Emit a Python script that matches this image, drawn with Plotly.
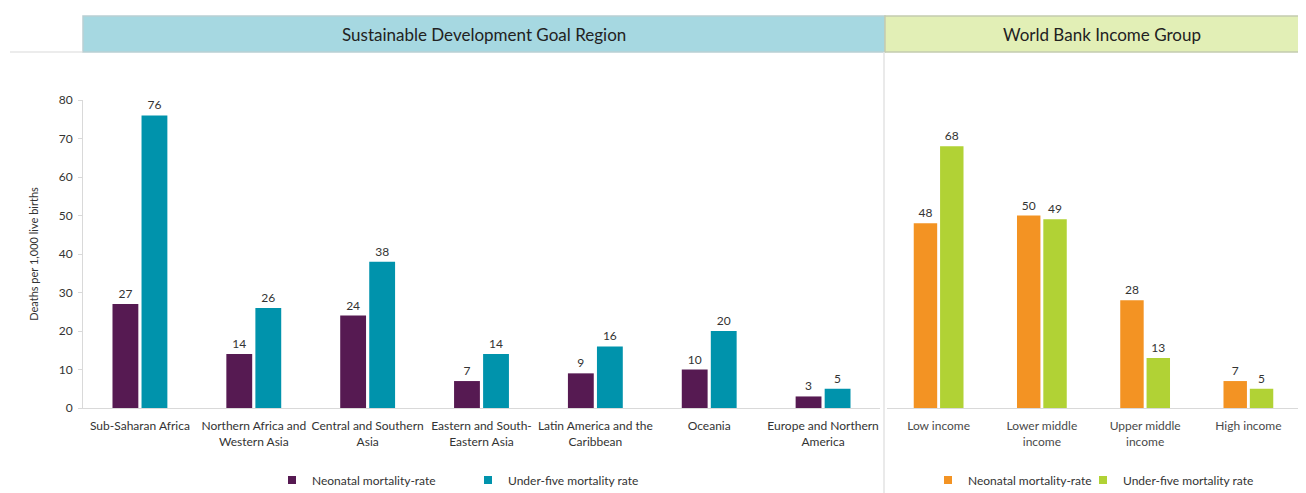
import plotly.graph_objects as go

# the page puts the figure 8px in from the top-left corner
OFF = 8
W, H = 1306 - OFF, 493 - OFF

sdg_regions = [
    "Sub-Saharan Africa",
    "Northern Africa and<br>Western Asia",
    "Central and Southern<br>Asia",
    "Eastern and South-<br>Eastern Asia",
    "Latin America and the<br>Caribbean",
    "Oceania",
    "Europe and Northern<br>America",
]
sdg_neonatal = [27, 14, 24, 7, 9, 10, 3]
sdg_under5 = [76, 26, 38, 14, 16, 20, 5]

income_groups = ["Low income", "Lower middle<br>income", "Upper middle<br>income", "High income"]
income_neonatal = [48, 50, 28, 7]
income_under5 = [68, 49, 13, 5]

y_ticks = [0, 10, 20, 30, 40, 50, 60, 70, 80]

FONT = "Lato, 'Open Sans', sans-serif"
PURPLE, TEAL = "#561a52", "#0093ac"
ORANGE, GREEN = "#f39323", "#b1d235"


def px(x):
    return (x - OFF) / W


def py(y):
    return 1 - (y - OFF) / H


fig = go.Figure()


def add_pair(x, a, b, ca, cb, xa, ya, legs):
    series = ((a, ca, "Neonatal mortality-rate"), (b, cb, "Under-five mortality rate"))
    for (vals, col, name), leg in zip(series, legs):
        fig.add_trace(go.Bar(
            x=x, y=vals, name=name, marker=dict(color=col, line=dict(width=0)),
            text=vals, textposition="outside", cliponaxis=False,
            textfont=dict(size=12, color="#333333", family=FONT),
            xaxis=xa, yaxis=ya, showlegend=False,
        ))
        # small square legend entry
        fig.add_trace(go.Scatter(
            x=[None], y=[None], mode="markers", name=name,
            marker=dict(symbol="square", size=8, color=col),
            xaxis=xa, yaxis=ya, legend=leg,
        ))


add_pair(sdg_regions, sdg_neonatal, sdg_under5, PURPLE, TEAL, "x", "y", ("legend", "legend2"))
add_pair(income_groups, income_neonatal, income_under5, ORANGE, GREEN, "x2", "y2", ("legend3", "legend4"))

ydom = [py(408), py(100)]
axis_font = dict(size=12, color="#333333", family=FONT)


def leg(text_x):
    return dict(orientation="h", x=px(text_x - 40), y=py(480), yanchor="middle", xanchor="left",
                font=dict(size=12, color="#333333"), itemwidth=30, bgcolor="rgba(0,0,0,0)")


fig.update_layout(
    width=W, height=H,
    margin=dict(l=0, r=0, t=0, b=0, pad=0, autoexpand=False),
    paper_bgcolor="white", plot_bgcolor="white",
    font=dict(family=FONT, color="#333333"),
    barmode="group", bargap=0.49, bargroupgap=0.11,
    xaxis=dict(domain=[px(83), px(880)], showline=True, linecolor="#d9d9d9",
               ticks="", tickfont=axis_font, fixedrange=True, automargin=False,
               ticklabelstandoff=7),
    yaxis=dict(domain=ydom, range=[0, 80], tickvals=y_ticks, showgrid=False,
               showline=True, linecolor="#d9d9d9", ticks="outside", ticklen=4,
               tickcolor="#d9d9d9", tickfont=axis_font, zeroline=False, automargin=False,
               ticklabelstandoff=3,
               title=dict(text="Deaths per 1,000 live births", font=dict(size=11, color="#333333"), standoff=17)),
    xaxis2=dict(domain=[px(887), px(1300)], anchor="y2", showline=True, linecolor="#d9d9d9",
                ticks="", tickfont=dict(size=12, color="#4a4a4a", family=FONT), fixedrange=True,
                automargin=False, ticklabelstandoff=7),
    yaxis2=dict(domain=ydom, range=[0, 80], anchor="x2", visible=False),
    legend=leg(312),
    legend2=leg(508),
    legend3=leg(968),
    legend4=leg(1123),
)

shapes = [
    dict(type="rect", xref="paper", yref="paper", x0=px(83), x1=px(885), y0=py(52), y1=py(16),
         fillcolor="#a6d8e1", line=dict(color="#b9cfd3", width=1.5), layer="below"),
    dict(type="rect", xref="paper", yref="paper", x0=px(885), x1=px(1307), y0=py(52), y1=py(16),
         fillcolor="#e2efb6", line=dict(color="#c4cbb0", width=1.5), layer="below"),
    dict(type="line", xref="paper", yref="paper", x0=px(10), x1=px(83), y0=py(52), y1=py(52),
         line=dict(color="#d9d9d9", width=1)),
    dict(type="line", xref="paper", yref="paper", x0=px(884), x1=px(884), y0=py(52), y1=0,
         line=dict(color="#e3e3e3", width=1.5)),
]
fig.update_layout(shapes=shapes)

for text, xc in (("Sustainable Development Goal Region", 484), ("World Bank Income Group", 1102)):
    fig.add_annotation(text=text, xref="paper", yref="paper", x=px(xc), y=py(34),
                       xanchor="center", yanchor="middle",
                       showarrow=False, font=dict(size=17, color="#222222", family=FONT))

fig.write_html("out.html")
